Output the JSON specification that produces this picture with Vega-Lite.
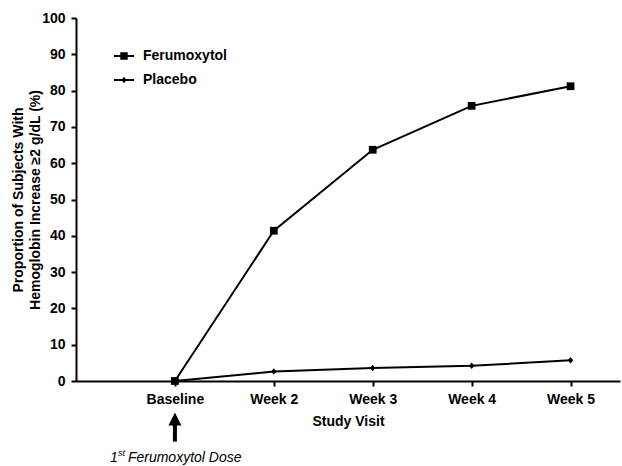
{
  "$schema": "https://vega.github.io/schema/vega-lite/v6.json",
  "width": 544,
  "height": 363,
  "autosize": {"type": "none"},
  "padding": {"left": 76, "top": 18, "right": 2, "bottom": 85},
  "background": "white",
  "config": {
    "view": {"stroke": null},
    "font": "Liberation Sans",
    "axis": {
      "grid": false,
      "domainColor": "black",
      "domainWidth": 2,
      "tickColor": "black",
      "tickWidth": 2,
      "tickSize": 5,
      "labelFont": "Liberation Sans",
      "labelFontSize": 14,
      "labelFontWeight": "bold",
      "labelColor": "black",
      "titleFont": "Liberation Sans",
      "titleFontSize": 14,
      "titleFontWeight": "bold",
      "titleColor": "black"
    }
  },
  "datasets": {
    "main": [
      {"series": "Ferumoxytol", "visit": 1, "pct": 0},
      {"series": "Ferumoxytol", "visit": 2, "pct": 41.4},
      {"series": "Ferumoxytol", "visit": 3, "pct": 63.7},
      {"series": "Ferumoxytol", "visit": 4, "pct": 75.8},
      {"series": "Ferumoxytol", "visit": 5, "pct": 81.2},
      {"series": "Placebo", "visit": 1, "pct": 0},
      {"series": "Placebo", "visit": 2, "pct": 2.6},
      {"series": "Placebo", "visit": 3, "pct": 3.6},
      {"series": "Placebo", "visit": 4, "pct": 4.2},
      {"series": "Placebo", "visit": 5, "pct": 5.7}
    ],
    "arrowhead": [{"visit": 1, "pct": -10.5}],
    "arrowshaft": [{"visit": 1, "pct": -11.7, "pct2": -16.7}],
    "note1": [{"visit": 1, "pct": -21.3, "label": "1"}],
    "note2": [{"visit": 1, "pct": -21.3, "label": "st"}],
    "note3": [{"visit": 1, "pct": -21.3, "label": "Ferumoxytol Dose"}]
  },
  "encoding": {
    "x": {
      "field": "visit",
      "type": "quantitative",
      "scale": {"domain": [0, 5.5], "nice": false, "zero": false},
      "axis": {
        "values": [1, 2, 3, 4, 5],
        "labelExpr": "datum.value == 1 ? 'Baseline' : 'Week ' + datum.value",
        "title": "Study Visit",
        "labelPadding": 6,
        "titlePadding": 8
      }
    },
    "y": {
      "field": "pct",
      "type": "quantitative",
      "scale": {"domain": [0, 100], "nice": false},
      "axis": {
        "values": [0, 10, 20, 30, 40, 50, 60, 70, 80, 90, 100],
        "labelOverlap": false,
        "title": ["Proportion of Subjects With", "Hemoglobin Increase ≥2 g/dL (%)"],
        "titleLineHeight": 17.5,
        "labelPadding": 6,
        "titlePadding": -1
      }
    }
  },
  "resolve": {"scale": {"shape": "independent"}, "legend": {"shape": "independent"}},
  "layer": [
    {
      "data": {"name": "main"},
      "mark": {"type": "line", "color": "black", "strokeWidth": 2},
      "encoding": {
        "detail": {"field": "series"}
      }
    },
    {
      "data": {"name": "main"},
      "mark": {"type": "point", "filled": true, "color": "black", "opacity": 1, "size": 60},
      "encoding": {
        "shape": {
          "field": "series",
          "type": "nominal",
          "scale": {
            "domain": ["Ferumoxytol", "Placebo"],
            "range": ["M-1,-1H1V1H-1Z", "M0,-0.85L0.7,0L0,0.85L-0.7,0Z"]
          },
          "legend": null
        }
      }
    },
    {
      "data": {"name": "main"},
      "mark": {"type": "point", "filled": true, "color": "black", "opacity": 0, "size": 1},
      "encoding": {
        "shape": {
          "field": "series",
          "type": "nominal",
          "scale": {
            "domain": ["Ferumoxytol", "Placebo"],
            "range": ["M-1,-0.1H1V0.1H-1ZM-0.37,-0.37H0.37V0.37H-0.37Z", "M-1,-0.1H1V0.1H-1ZM0,-0.32L0.27,0L0,0.32L-0.27,0Z"]
          },
          "legend": {
            "title": null,
            "orient": "none",
            "legendX": 38,
            "legendY": 28,
            "labelFont": "Liberation Sans",
            "labelFontSize": 14,
            "labelFontWeight": "bold",
            "labelColor": "black",
            "symbolSize": 400,
            "symbolOpacity": 1,
            "symbolFillColor": "black",
            "symbolStrokeWidth": 0,
            "labelOffset": 9,
            "rowPadding": 7
          }
        }
      }
    },
    {
      "data": {"name": "arrowhead"},
      "mark": {"type": "point", "filled": true, "color": "black", "opacity": 1, "shape": "M0,-1L1,1L-1,1Z", "size": 169}
    },
    {
      "data": {"name": "arrowshaft"},
      "mark": {"type": "rule", "color": "black", "strokeWidth": 4},
      "encoding": {
        "y2": {"field": "pct2"}
      }
    },
    {
      "data": {"name": "note1"},
      "mark": {"type": "text", "font": "Liberation Sans", "fontSize": 14, "fontStyle": "italic", "align": "left", "baseline": "middle", "dx": -65, "color": "black"},
      "encoding": {
        "text": {"field": "label"}
      }
    },
    {
      "data": {"name": "note2"},
      "mark": {"type": "text", "font": "Liberation Sans", "fontSize": 9, "fontStyle": "italic", "align": "left", "baseline": "middle", "dx": -57, "dy": -5, "color": "black"},
      "encoding": {
        "text": {"field": "label"}
      }
    },
    {
      "data": {"name": "note3"},
      "mark": {"type": "text", "font": "Liberation Sans", "fontSize": 14, "fontStyle": "italic", "align": "left", "baseline": "middle", "dx": -47, "color": "black"},
      "encoding": {
        "text": {"field": "label"}
      }
    }
  ]
}
